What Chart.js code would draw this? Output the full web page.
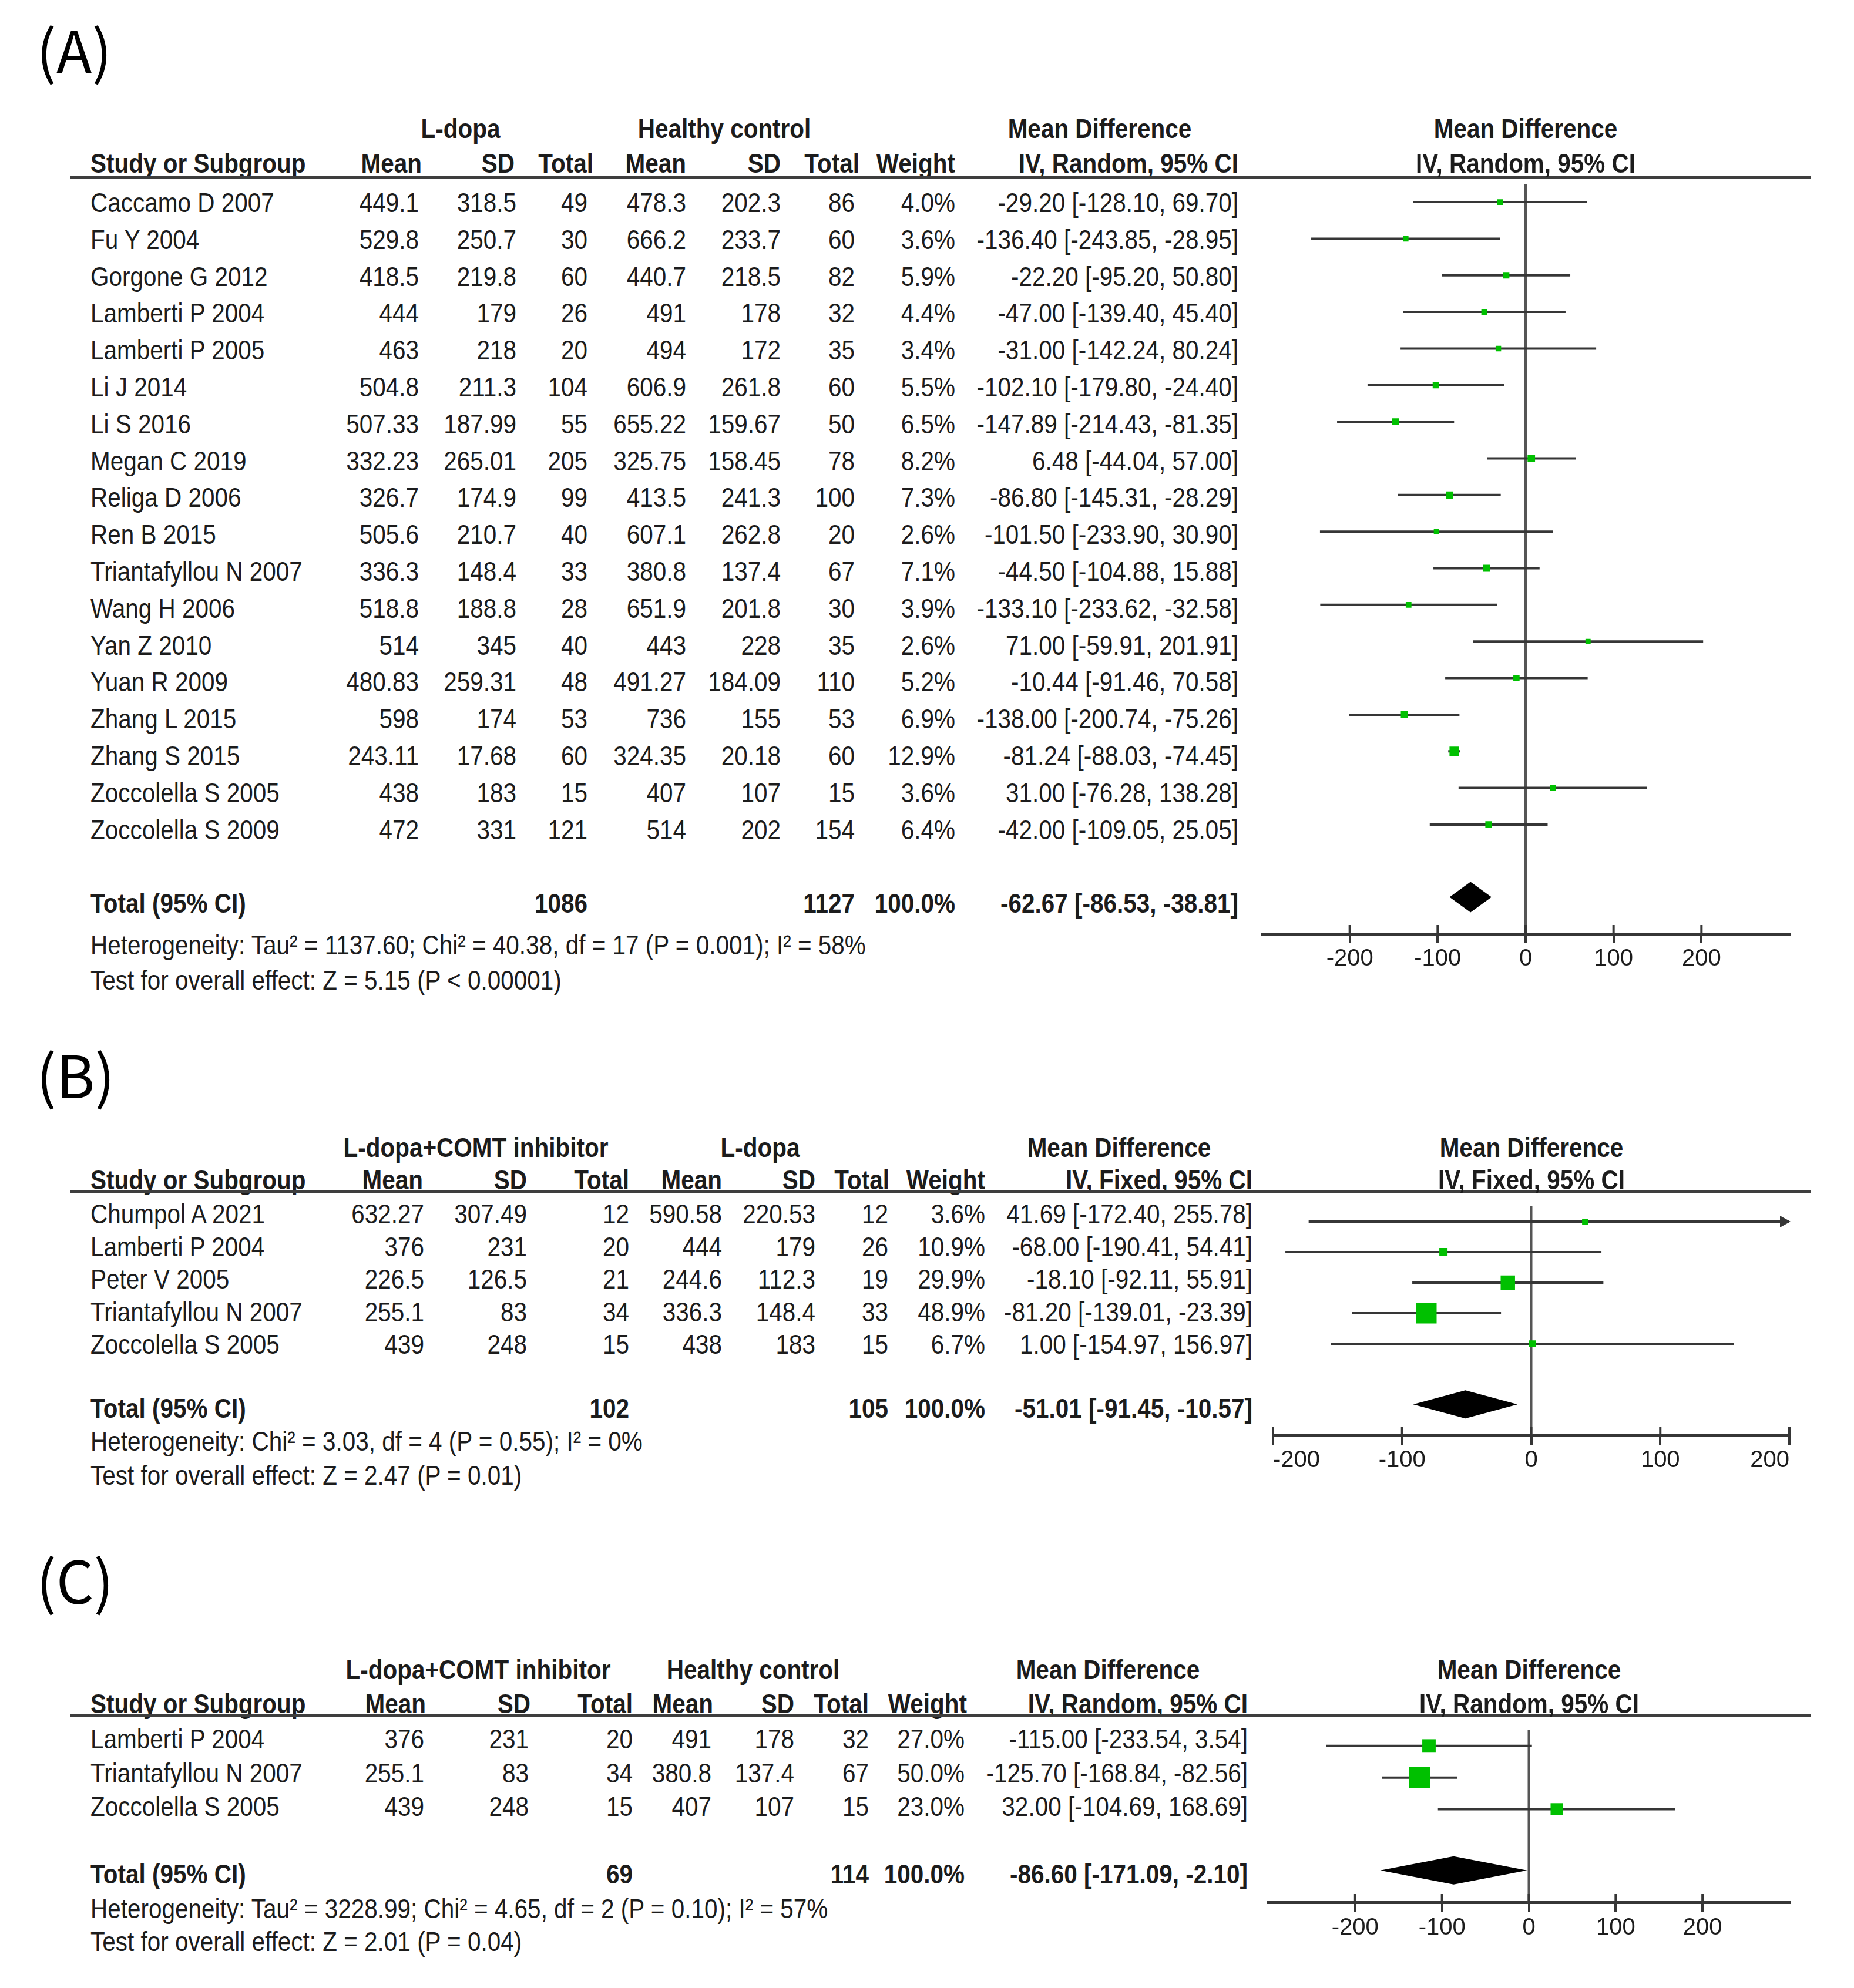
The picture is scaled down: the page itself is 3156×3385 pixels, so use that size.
<!DOCTYPE html>
<html>
<head>
<meta charset="utf-8">
<script src="https://cdn.jsdelivr.net/npm/chart.js@4.4.1/dist/chart.umd.min.js"></script>
<style>
  html, body { margin: 0; padding: 0; background: #fff; }
  #page { position: relative; width: 3156px; height: 3385px; overflow: hidden;
          font-family: 'Liberation Sans', Arial, sans-serif; color: #1c1c1c; }
  .t { position: absolute; white-space: nowrap; font-size: 46px; line-height: 46px; }
  .b { font-weight: bold; }
  .rule { position: absolute; left: 120px; width: 2962px; height: 5px; background: #3e3e3e; }
  .lab { position: absolute; left: 62px; font-family: 'Noto Sans CJK KR', 'Noto Sans', sans-serif;
         font-size: 100px; line-height: 100px; color: #000; }
  canvas { position: absolute; }
</style>
</head>
<body>
<div id="page"></div>
<script>
// ── Panel A: L-dopa vs healthy control ───────────────────────
const A_STUDY = ['Caccamo D 2007', 'Fu Y 2004', 'Gorgone G 2012', 'Lamberti P 2004', 'Lamberti P 2005',
  'Li J 2014', 'Li S 2016', 'Megan C 2019', 'Religa D 2006', 'Ren B 2015', 'Triantafyllou N 2007',
  'Wang H 2006', 'Yan Z 2010', 'Yuan R 2009', 'Zhang L 2015', 'Zhang S 2015', 'Zoccolella S 2005',
  'Zoccolella S 2009'];
const A_MEAN_E = [449.1, 529.8, 418.5, 444, 463, 504.8, 507.33, 332.23, 326.7, 505.6, 336.3, 518.8, 514, 480.83, 598, 243.11, 438, 472];
const A_SD_E   = [318.5, 250.7, 219.8, 179, 218, 211.3, 187.99, 265.01, 174.9, 210.7, 148.4, 188.8, 345, 259.31, 174, 17.68, 183, 331];
const A_N_E    = [49, 30, 60, 26, 20, 104, 55, 205, 99, 40, 33, 28, 40, 48, 53, 60, 15, 121];
const A_MEAN_C = [478.3, 666.2, 440.7, 491, 494, 606.9, 655.22, 325.75, 413.5, 607.1, 380.8, 651.9, 443, 491.27, 736, 324.35, 407, 514];
const A_SD_C   = [202.3, 233.7, 218.5, 178, 172, 261.8, 159.67, 158.45, 241.3, 262.8, 137.4, 201.8, 228, 184.09, 155, 20.18, 107, 202];
const A_N_C    = [86, 60, 82, 32, 35, 60, 50, 78, 100, 20, 67, 30, 35, 110, 53, 60, 15, 154];
const A_WEIGHT = [4.0, 3.6, 5.9, 4.4, 3.4, 5.5, 6.5, 8.2, 7.3, 2.6, 7.1, 3.9, 2.6, 5.2, 6.9, 12.9, 3.6, 6.4];
const A_MD     = [-29.20, -136.40, -22.20, -47.00, -31.00, -102.10, -147.89, 6.48, -86.80, -101.50, -44.50, -133.10, 71.00, -10.44, -138.00, -81.24, 31.00, -42.00];
const A_LO     = [-128.10, -243.85, -95.20, -139.40, -142.24, -179.80, -214.43, -44.04, -145.31, -233.90, -104.88, -233.62, -59.91, -91.46, -200.74, -88.03, -76.28, -109.05];
const A_HI     = [69.70, -28.95, 50.80, 45.40, 80.24, -24.40, -81.35, 57.00, -28.29, 30.90, 15.88, -32.58, 201.91, 70.58, -75.26, -74.45, 138.28, 25.05];
const A_TOTAL_N  = [1086, 1127];
const A_TOTAL_MD = [-62.67, -86.53, -38.81];
const A_GROUPS = ['L-dopa', 'Healthy control', 'Mean Difference'];
const A_COLS   = ['Mean', 'SD', 'Total', 'Mean', 'SD', 'Total', 'Weight', 'IV, Random, 95% CI'];
const A_HEAD   = ['Mean Difference', 'IV, Random, 95% CI'];
const A_HET  = 'Heterogeneity: Tau² = 1137.60; Chi² = 40.38, df = 17 (P = 0.001); I² = 58%';
const A_TEST = 'Test for overall effect: Z = 5.15 (P < 0.00001)';
const A_TICKS = [-200, -100, 0, 100, 200];

// ── Panel B: L-dopa+COMT inhibitor vs L-dopa ─────────────────
const B_STUDY  = ['Chumpol A 2021', 'Lamberti P 2004', 'Peter V 2005', 'Triantafyllou N 2007', 'Zoccolella S 2005'];
const B_MEAN_E = [632.27, 376, 226.5, 255.1, 439];
const B_SD_E   = [307.49, 231, 126.5, 83, 248];
const B_N_E    = [12, 20, 21, 34, 15];
const B_MEAN_C = [590.58, 444, 244.6, 336.3, 438];
const B_SD_C   = [220.53, 179, 112.3, 148.4, 183];
const B_N_C    = [12, 26, 19, 33, 15];
const B_WEIGHT = [3.6, 10.9, 29.9, 48.9, 6.7];
const B_MD     = [41.69, -68.00, -18.10, -81.20, 1.00];
const B_LO     = [-172.40, -190.41, -92.11, -139.01, -154.97];
const B_HI     = [255.78, 54.41, 55.91, -23.39, 156.97];
const B_TOTAL_N  = [102, 105];
const B_TOTAL_MD = [-51.01, -91.45, -10.57];
const B_GROUPS = ['L-dopa+COMT inhibitor', 'L-dopa', 'Mean Difference'];
const B_COLS   = ['Mean', 'SD', 'Total', 'Mean', 'SD', 'Total', 'Weight', 'IV, Fixed, 95% CI'];
const B_HEAD   = ['Mean Difference', 'IV, Fixed, 95% CI'];
const B_HET  = 'Heterogeneity: Chi² = 3.03, df = 4 (P = 0.55); I² = 0%';
const B_TEST = 'Test for overall effect: Z = 2.47 (P = 0.01)';
const B_TICKS = [-200, -100, 0, 100, 200];

// ── Panel C: L-dopa+COMT inhibitor vs healthy control ────────
const C_STUDY  = ['Lamberti P 2004', 'Triantafyllou N 2007', 'Zoccolella S 2005'];
const C_MEAN_E = [376, 255.1, 439];
const C_SD_E   = [231, 83, 248];
const C_N_E    = [20, 34, 15];
const C_MEAN_C = [491, 380.8, 407];
const C_SD_C   = [178, 137.4, 107];
const C_N_C    = [32, 67, 15];
const C_WEIGHT = [27.0, 50.0, 23.0];
const C_MD     = [-115.00, -125.70, 32.00];
const C_LO     = [-233.54, -168.84, -104.69];
const C_HI     = [3.54, -82.56, 168.69];
const C_TOTAL_N  = [69, 114];
const C_TOTAL_MD = [-86.60, -171.09, -2.10];
const C_GROUPS = ['L-dopa+COMT inhibitor', 'Healthy control', 'Mean Difference'];
const C_COLS   = ['Mean', 'SD', 'Total', 'Mean', 'SD', 'Total', 'Weight', 'IV, Random, 95% CI'];
const C_HEAD   = ['Mean Difference', 'IV, Random, 95% CI'];
const C_HET  = 'Heterogeneity: Tau² = 3228.99; Chi² = 4.65, df = 2 (P = 0.10); I² = 57%';
const C_TEST = 'Test for overall effect: Z = 2.01 (P = 0.04)';
const C_TICKS = [-200, -100, 0, 100, 200];

// ── Layout (pixel positions only) ────────────────────────────
const GREEN = '#00c000';
const INK = '#363636';
const ZERO_INK = '#555';
const SQUEEZE = 0.88;   // the source font is narrower than Liberation Sans
const AXIS_H = 70;
const PAD = 70;

const LAYOUT = {
  A: { label: '(A)', labelTop: 32, groupX: [784, 1233, 1872], groupY: 219, headY: 278, ruleY: 302,
       headRight: [718, 876, 1010, 1168, 1329, 1463, 1626, 2108],
       dataRight: [713, 879, 1000, 1168, 1329, 1455, 1626, 2108],
       rowY0: 345, rowStep: 62.8, totalY: 1538, hetY: 1609, testY: 1669,
       plot: { left: 2148, right: 3046, top: 302, bottom: 1590, min: -300, max: 300,
               row0: 333, step: 62.9, diamondY: 1527, diamondH: 26, box: w => 7 + 0.7 * w } },
  B: { label: '(B)', labelTop: 1777, groupX: [810, 1294, 1905], groupY: 1954, headY: 2009, ruleY: 2029,
       headRight: [720, 897, 1071, 1229, 1388, 1514, 1677, 2132],
       dataRight: [722, 897, 1071, 1229, 1388, 1512, 1677, 2132],
       rowY0: 2067, rowStep: 55.5, totalY: 2398, hetY: 2454, testY: 2512,
       plot: { left: 2167, right: 3046, top: 2029, bottom: 2444, min: -200, max: 200,
               row0: 2057, step: 55.3, diamondY: 2388, diamondH: 24, box: w => 8 + 0.55 * w } },
  C: { label: '(C)', labelTop: 2638, groupX: [814, 1282, 1886], groupY: 2843, headY: 2901, ruleY: 2921,
       headRight: [725, 903, 1077, 1214, 1352, 1479, 1646, 2124],
       dataRight: [722, 900, 1077, 1211, 1352, 1479, 1642, 2124],
       rowY0: 2961, rowStep: 57.5, totalY: 3191, hetY: 3250, testY: 3306,
       plot: { left: 2159, right: 3046, top: 2921, bottom: 3240, min: -300, max: 300,
               row0: 2950, step: 58.5, diamondY: 3180, diamondH: 24, box: w => 8 + 0.55 * w } },
};

// ── Helpers ──────────────────────────────────────────────────
const page = document.getElementById('page');

function txt(x, y, s, align, bold) {
  const d = document.createElement('div');
  d.className = 't' + (bold ? ' b' : '');
  d.textContent = s;
  d.style.left = x + 'px';
  d.style.top = y + 'px';
  const tx = align === 'right' ? '-100%' : align === 'center' ? '-50%' : '0';
  d.style.transformOrigin = align === 'right' ? 'right center' : align === 'center' ? 'center' : 'left center';
  d.style.transform = `translate(${tx}, -50%) scaleX(${SQUEEZE})`;
  page.appendChild(d);
}

const ci = (m, lo, hi) => `${m.toFixed(2)} [${lo.toFixed(2)}, ${hi.toFixed(2)}]`;

// ── Panel render ─────────────────────────────────────────────
function renderPanel(L, D) {
  const lab = document.createElement('div');
  lab.className = 'lab';
  lab.textContent = L.label;
  lab.style.top = L.labelTop + 'px';
  page.appendChild(lab);

  L.groupX.forEach((x, i) => txt(x, L.groupY, D.groups[i], 'center', true));
  txt(154, L.headY, 'Study or Subgroup', 'left', true);
  D.cols.forEach((c, i) => txt(L.headRight[i], L.headY, c, 'right', true));

  const rule = document.createElement('div');
  rule.className = 'rule';
  rule.style.top = (L.ruleY - 2.5) + 'px';
  page.appendChild(rule);

  D.study.forEach((s, i) => {
    const y = L.rowY0 + i * L.rowStep;
    const cells = [D.meanE[i], D.sdE[i], D.nE[i], D.meanC[i], D.sdC[i], D.nC[i],
                   D.weight[i].toFixed(1) + '%', ci(D.md[i], D.lo[i], D.hi[i])];
    txt(154, y, s, 'left');
    cells.forEach((c, j) => txt(L.dataRight[j], y, String(c), 'right'));
  });

  txt(154, L.totalY, 'Total (95% CI)', 'left', true);
  txt(L.dataRight[2], L.totalY, String(D.totalN[0]), 'right', true);
  txt(L.dataRight[5], L.totalY, String(D.totalN[1]), 'right', true);
  txt(L.dataRight[6], L.totalY, '100.0%', 'right', true);
  txt(L.dataRight[7], L.totalY, ci(...D.totalMD), 'right', true);
  txt(154, L.hetY, D.het, 'left');
  txt(154, L.testY, D.test, 'left');

  // forest plot
  const P = L.plot;
  const w = P.right - P.left + 2 * PAD;
  const h = P.bottom - P.top + AXIS_H;
  const cv = document.createElement('canvas');
  cv.width = w; cv.height = h;
  cv.style.left = (P.left - PAD) + 'px';
  cv.style.top = P.top + 'px';
  cv.style.width = w + 'px'; cv.style.height = h + 'px';
  page.appendChild(cv);

  const toRow = px => (px - P.row0) / P.step;
  const totalRow = toRow(P.diamondY);

  const forest = {
    id: 'forest',
    beforeDatasetsDraw(chart) {
      const { ctx, chartArea: a, scales: { x } } = chart;
      const x0 = x.getPixelForValue(0);
      ctx.save();
      ctx.strokeStyle = ZERO_INK;
      ctx.lineWidth = 4;
      ctx.beginPath();
      ctx.moveTo(x0, a.top); ctx.lineTo(x0, a.bottom);
      ctx.stroke();
      ctx.strokeStyle = INK;
      ctx.beginPath();
      x.ticks.forEach(t => {
        const px = x.getPixelForValue(t.value);
        ctx.moveTo(px, a.bottom - 15); ctx.lineTo(px, a.bottom);
      });
      ctx.stroke();
      ctx.restore();
    },
    afterDatasetsDraw(chart) {
      const { ctx, scales: { x, y } } = chart;
      const [est, lo, hi] = D.totalMD;
      const yc = y.getPixelForValue(totalRow);
      ctx.save();
      ctx.fillStyle = '#000';
      ctx.beginPath();
      ctx.moveTo(x.getPixelForValue(lo), yc);
      ctx.lineTo(x.getPixelForValue(est), yc - P.diamondH);
      ctx.lineTo(x.getPixelForValue(hi), yc);
      ctx.lineTo(x.getPixelForValue(est), yc + P.diamondH);
      ctx.closePath();
      ctx.fill();
      // arrows where a CI runs off the axis
      ctx.fillStyle = INK;
      D.hi.forEach((v, i) => {
        if (v <= x.max) return;
        const px = x.getPixelForValue(x.max) + 2;
        const py = y.getPixelForValue(i);
        ctx.beginPath();
        ctx.moveTo(px, py); ctx.lineTo(px - 18, py - 10); ctx.lineTo(px - 18, py + 10);
        ctx.closePath(); ctx.fill();
      });
      ctx.restore();
    }
  };

  new Chart(cv.getContext('2d'), {
    type: 'scatter',
    data: {
      datasets: [
        {
          data: D.md.map((m, i) => ({ x: m, y: i })),
          pointStyle: 'rect',
          pointRadius: D.weight.map(v => P.box(v) / Math.SQRT2),
          pointHoverRadius: D.weight.map(v => P.box(v) / Math.SQRT2),
          backgroundColor: GREEN,
          borderWidth: 0,
        },
        ...D.lo.map((lo, i) => ({
          data: [{ x: lo, y: i }, { x: D.hi[i], y: i }],
          showLine: true,
          borderColor: INK,
          borderWidth: 4,
          pointRadius: 0,
          pointHoverRadius: 0,
        })),
      ]
    },
    options: {
      responsive: false,
      animation: false,
      events: [],
      layout: { padding: { left: PAD, right: PAD, top: 0, bottom: 0 } },
      plugins: { legend: { display: false }, tooltip: { enabled: false } },
      scales: {
        x: {
          type: 'linear', position: 'bottom', min: P.min, max: P.max,
          afterBuildTicks: s => { s.ticks = D.ticks.map(v => ({ value: v })); },
          afterFit: s => { s.height = AXIS_H; },
          border: { display: true, color: INK, width: 5 },
          grid: { display: true, drawOnChartArea: false, drawTicks: true, tickLength: 16, color: INK, lineWidth: 4 },
          ticks: { color: '#1c1c1c', padding: 3, maxRotation: 0, autoSkip: false,
                   align: D.ticks[0] === P.min ? 'inner' : 'center',
                   font: { family: "'Liberation Sans', Arial, sans-serif", size: 40 },
                   callback: v => String(v) }
        },
        y: { type: 'linear', reverse: true, display: false, min: toRow(P.top), max: toRow(P.bottom) }
      }
    },
    plugins: [forest]
  });

  // plot header, centred over the zero line
  const zeroX = P.left + (0 - P.min) / (P.max - P.min) * (P.right - P.left);
  txt(zeroX, L.groupY, D.head[0], 'center', true);
  txt(zeroX, L.headY, D.head[1], 'center', true);
}

renderPanel(LAYOUT.A, {
  study: A_STUDY, meanE: A_MEAN_E, sdE: A_SD_E, nE: A_N_E, meanC: A_MEAN_C, sdC: A_SD_C, nC: A_N_C,
  weight: A_WEIGHT, md: A_MD, lo: A_LO, hi: A_HI, totalN: A_TOTAL_N, totalMD: A_TOTAL_MD,
  groups: A_GROUPS, cols: A_COLS, head: A_HEAD, het: A_HET, test: A_TEST, ticks: A_TICKS
});
renderPanel(LAYOUT.B, {
  study: B_STUDY, meanE: B_MEAN_E, sdE: B_SD_E, nE: B_N_E, meanC: B_MEAN_C, sdC: B_SD_C, nC: B_N_C,
  weight: B_WEIGHT, md: B_MD, lo: B_LO, hi: B_HI, totalN: B_TOTAL_N, totalMD: B_TOTAL_MD,
  groups: B_GROUPS, cols: B_COLS, head: B_HEAD, het: B_HET, test: B_TEST, ticks: B_TICKS
});
renderPanel(LAYOUT.C, {
  study: C_STUDY, meanE: C_MEAN_E, sdE: C_SD_E, nE: C_N_E, meanC: C_MEAN_C, sdC: C_SD_C, nC: C_N_C,
  weight: C_WEIGHT, md: C_MD, lo: C_LO, hi: C_HI, totalN: C_TOTAL_N, totalMD: C_TOTAL_MD,
  groups: C_GROUPS, cols: C_COLS, head: C_HEAD, het: C_HET, test: C_TEST, ticks: C_TICKS
});
</script>
</body>
</html>
